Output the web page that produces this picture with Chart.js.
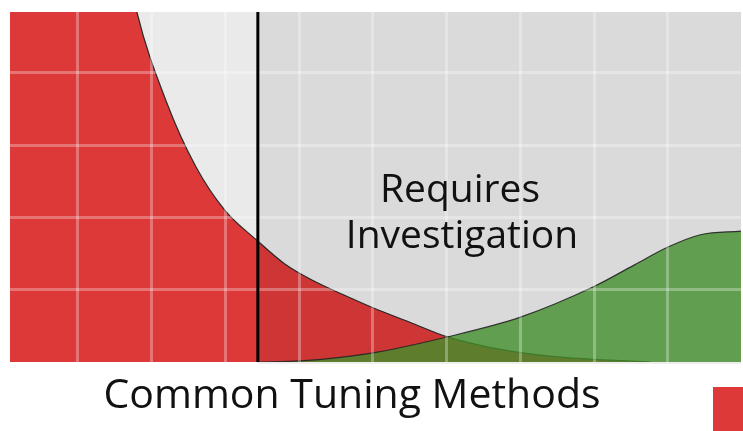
<!DOCTYPE html>
<html>
<head>
<meta charset="utf-8">
<script src="https://cdn.jsdelivr.net/npm/chart.js@4.4.1/dist/chart.umd.min.js"></script>
<style>
  html, body { margin: 0; padding: 0; background: #fff; }
  #wrap { width: 743px; height: 431px; }
</style>
</head>
<body>
<div id="wrap"><canvas id="chart"></canvas></div>
<script>
// data
const redX = [0.8, 10, 18, 22, 26, 30, 34.3, 38, 42, 46, 50, 55, 60, 65, 70, 75, 80, 87.6];
const redY = [185, 90, 48.4, 36.0, 27.0, 20.9, 16.8, 13.6, 11.2, 9.3, 7.5, 5.5, 3.5, 2.2, 1.3, 0.7, 0.35, 0];
const greenX = [34.4, 40.1, 49.6, 60.05, 70.0, 79.9, 85.4, 90.0, 94.4, 99.9];
const greenY = [0, 0.15, 1.2, 3.46, 6.2, 10.4, 13.4, 15.9, 17.6, 18.1];
const threshold = 34.4;
const xTicks = [10, 20, 30, 40, 50, 60, 70, 80, 90];
const yTicks = [10, 20, 30, 40];
const seriesNames = ['Fail', 'Pass'];
const zoneLabel = ['Requires', 'Investigation'];
const axisTitle = 'Common Tuning Methods';

const RED = 'rgb(221,57,57)';
const GREEN = 'rgba(71,154,48,0.8)';

const toPts = (xs, ys) => xs.map((x, i) => ({ x: x, y: ys[i] }));

// backdrop, darker right zone, threshold line and the texts
const decor = {
  id: 'decor',
  beforeDatasetsDraw(chart) {
    const { ctx, chartArea: a } = chart;
    ctx.save();
    ctx.fillStyle = '#eaeaea';
    ctx.fillRect(a.left, a.top, a.right - a.left, a.bottom - a.top);
    ctx.restore();
  },
  afterDatasetsDraw(chart) {
    const { ctx, chartArea: a, scales } = chart;
    const tx = scales.x.getPixelForValue(threshold);
    ctx.save();
    ctx.fillStyle = 'rgba(0,0,0,0.065)';
    ctx.fillRect(tx, a.top, a.right - tx, a.bottom - a.top + 2);
    ctx.restore();
  },
  afterDraw(chart) {
    const { ctx, chartArea: a, scales } = chart;
    const tx = scales.x.getPixelForValue(threshold);
    ctx.save();
    ctx.strokeStyle = '#000';
    ctx.lineWidth = 3;
    ctx.beginPath();
    ctx.moveTo(tx, a.top);
    ctx.lineTo(tx, a.bottom);
    ctx.stroke();

    ctx.fillStyle = '#111';
    ctx.textAlign = 'center';
    ctx.textBaseline = 'alphabetic';
    ctx.font = '39px "Open Sans"';
    ctx.fillText(zoneLabel[0], 460, 202);
    ctx.fillText(zoneLabel[1], 462, 248);

    ctx.font = '41px "Open Sans"';
    ctx.fillText(axisTitle, 352, 408);

    // legend swatch, cut by the edge
    ctx.fillStyle = RED;
    ctx.fillRect(713, 387, 40, 50);
    ctx.restore();
  }
};

new Chart(document.getElementById('chart'), {
  type: 'line',
  data: {
    datasets: [
      {
        label: seriesNames[0],
        data: toPts(redX, redY),
        backgroundColor: RED,
        borderColor: '#2a2a2a',
        borderWidth: 1.2,
        fill: 'origin',
        pointRadius: 0,
        cubicInterpolationMode: 'monotone',
        order: 1
      },
      {
        label: seriesNames[1],
        data: toPts(greenX, greenY),
        backgroundColor: GREEN,
        borderColor: 'rgba(40,40,40,0.9)',
        borderWidth: 1.2,
        fill: 'origin',
        pointRadius: 0,
        cubicInterpolationMode: 'monotone',
        order: 0
      }
    ]
  },
  options: {
    responsive: true,
    maintainAspectRatio: false,
    animation: false,
    layout: { padding: { left: 10, top: 12, right: 2, bottom: 69 } },
    plugins: {
      legend: { display: false },
      tooltip: { enabled: false }
    },
    scales: {
      x: {
        type: 'linear',
        min: 0.8,
        max: 99.9,
        afterBuildTicks: s => { s.ticks = xTicks.map(v => ({ value: v })); },
        ticks: { display: false },
        border: { display: false },
        grid: { color: 'rgba(255,255,255,0.3)', lineWidth: 3, drawTicks: false, z: 1 }
      },
      y: {
        type: 'linear',
        min: 0,
        max: 48.4,
        afterBuildTicks: s => { s.ticks = yTicks.map(v => ({ value: v })); },
        ticks: { display: false },
        border: { display: false },
        grid: { color: 'rgba(255,255,255,0.3)', lineWidth: 3, drawTicks: false, z: 1 }
      }
    }
  },
  plugins: [decor]
});
</script>
</body>
</html>
